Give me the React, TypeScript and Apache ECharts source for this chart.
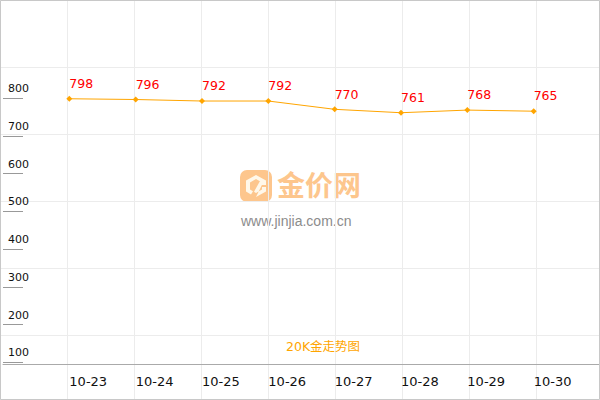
import { useEffect, useRef } from "react";
import * as echarts from "echarts";

const dates = ["10-23", "10-24", "10-25", "10-26", "10-27", "10-28", "10-29", "10-30"];
const prices = [798, 796, 792, 792, 770, 761, 768, 765];
const yTicks = { min: 0, max: 800, interval: 100 };
const chartTitle = "20K金走势图";

const ICON_PATH =
  "M16 5 L26 10.5 L26 15 L22 15 L22 12.5 L16 9 L10 12.5 L10 19.5 L13 21.2 L11 24.5 L6 21.5 L6 10.5 Z " +
  "M16 27 L6 21.5 M16 27 L26 21.5 L26 17 L22 17 L22 19.5 L16 23 L14 21.8 L20 11 L23 12.7 Z";

echarts.graphic.registerShape("logoIcon", echarts.graphic.extendPath(ICON_PATH, {}));

export default function App() {
  const containerRef = useRef<HTMLDivElement | null>(null);

  useEffect(() => {
    const container = containerRef.current;

    if (!container) {
      return;
    }

    const chart = echarts.init(container, undefined, { renderer: "svg" });

    // pad one empty slot each side so points land on the 67px background grid
    const categories = ["", ...dates, ""];
    const values = [null, ...prices, null];

    chart.setOption({
      animation: false,
      backgroundColor: "#ffffff",
      textStyle: { fontFamily: "DejaVu Sans, Noto Sans CJK SC, sans-serif" },
      title: {
        text: chartTitle,
        left: 281,
        top: 335,
        textStyle: {
          color: "#ffa500",
          fontSize: 12.5,
          fontWeight: "normal",
          fontFamily: "DejaVu Sans, Noto Sans CJK SC, sans-serif",
        },
      },
      // canvas is 603 wide (3px hidden past the window) so cells are 67px
      grid: [
        { left: 0, top: 0, right: 0, bottom: 0 },
        { left: 0, top: 98, right: 0, bottom: 0 },
      ],
      xAxis: [
        {
          type: "category",
          gridIndex: 0,
          data: categories,
          boundaryGap: false,
          axisLine: { show: false },
          axisTick: { show: false },
          axisLabel: { show: false },
          splitLine: { show: true, lineStyle: { color: "#ececec", width: 1 } },
        },
        {
          type: "category",
          gridIndex: 1,
          data: categories,
          boundaryGap: false,
          offset: -36,
          axisLine: { show: true, lineStyle: { color: "#aaaaaa", width: 1 } },
          axisTick: { show: false },
          axisLabel: {
            interval: 0,
            align: "left",
            margin: 11,
            fontSize: 13,
            color: "#111111",
          },
          splitLine: { show: false },
        },
      ],
      yAxis: [
        {
          type: "value",
          gridIndex: 0,
          inverse: true,
          min: 0,
          max: 400,
          interval: 67,
          axisLine: { show: false },
          axisTick: { show: false },
          axisLabel: { show: false },
          splitLine: { show: true, lineStyle: { color: "#ececec", width: 1 } },
        },
        {
          type: "value",
          gridIndex: 1,
          min: yTicks.min,
          max: yTicks.max,
          interval: yTicks.interval,
          axisLine: { show: false },
          axisTick: {
            show: true,
            inside: true,
            length: 20,
            lineStyle: { color: "#999999", width: 1 },
          },
          axisLabel: {
            inside: true,
            margin: 5,
            align: "left",
            verticalAlign: "bottom",
            padding: [0, 0, 4, 0],
            fontSize: 11,
            color: "#111111",
            showMinLabel: false,
          },
          splitLine: { show: false },
        },
      ],
      series: [
        {
          type: "line",
          xAxisIndex: 1,
          yAxisIndex: 1,
          data: values,
          connectNulls: false,
          symbol: "diamond",
          symbolSize: 6,
          itemStyle: { color: "#ffa500" },
          lineStyle: { color: "#ffa500", width: 1 },
          label: {
            show: true,
            position: "top",
            align: "left",
            distance: 6,
            color: "#ff0000",
            fontSize: 12.5,
          },
          z: 5,
        },
      ],
      graphic: [
        {
          type: "group",
          left: 240,
          top: 170,
          silent: true,
          z: 1,
          children: [
            {
              type: "rect",
              shape: { x: 0, y: 0, width: 32, height: 32, r: 7 },
              style: { fill: "#fdc68d" },
            },
            {
              type: "logoIcon",
              x: 0,
              y: 0,
              scaleX: 1,
              scaleY: 1,
              style: { fill: "#fff8ea" },
            },
            {
              type: "text",
              x: 37,
              y: 0,
              style: {
                text: "金价网",
                fontSize: 28,
                fontWeight: "bold",
                fontFamily: "Noto Sans CJK SC",
                fill: "#fdc68d",
              },
            },
            {
              type: "text",
              x: 1,
              y: 44,
              style: {
                text: "www.jinjia.com.cn",
                fontSize: 14,
                fontFamily: "Liberation Sans",
                fill: "#8c8c8c",
              },
            },
          ],
        },
        {
          type: "rect",
          silent: true,
          z: 10,
          shape: { x: 0.5, y: 0.5, width: 599, height: 399 },
          style: { fill: "none", stroke: "#c8c8c8", lineWidth: 1 },
        },
      ],
    });

    return () => {
      chart.dispose();
    };
  }, []);

  return (
    <div
      ref={containerRef}
      style={{ position: "fixed", left: 0, top: 0, width: 603, height: 400 }}
    />
  );
}
